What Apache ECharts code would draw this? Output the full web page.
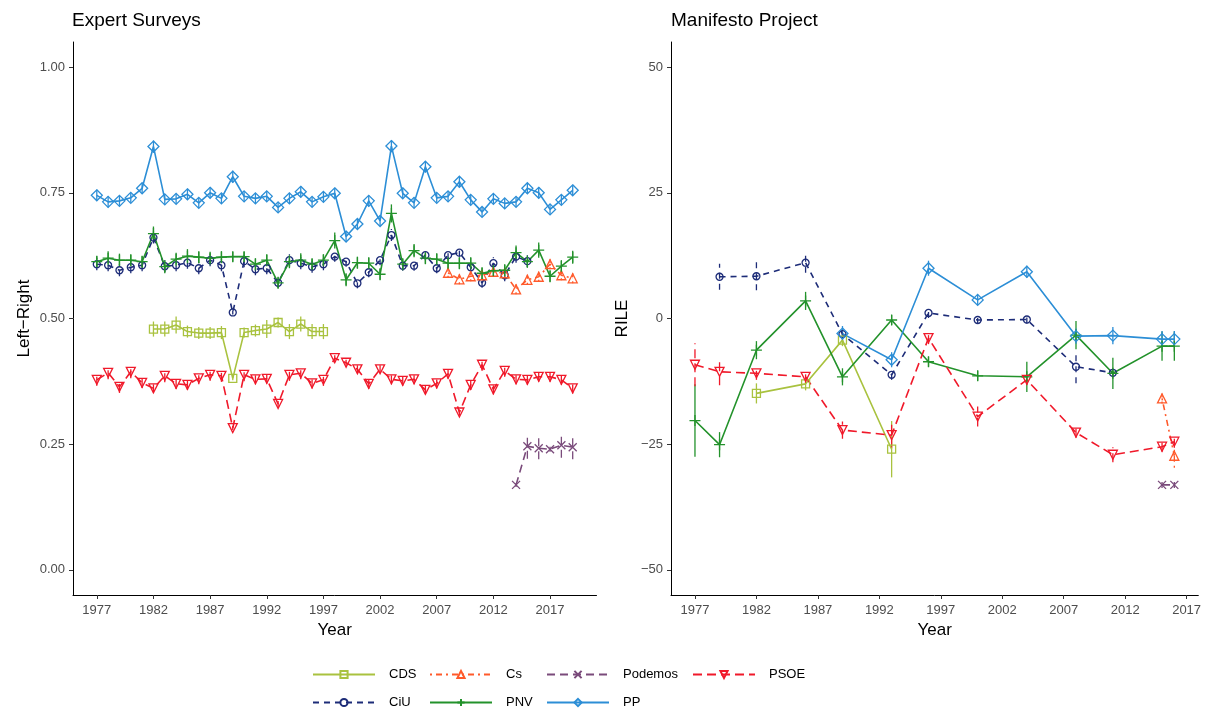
<!DOCTYPE html>
<html><head><meta charset="utf-8">
<script src="https://cdn.jsdelivr.net/npm/echarts@6/dist/echarts.min.js"></script>
<style>html,body{margin:0;padding:0;background:#fff}#c{width:1207px;height:710px}</style>
</head><body><div id="c"></div>
<script>
// ---------- Expert Surveys (left panel) ----------
const esYearsAll = [1977,1978,1979,1980,1981,1982,1983,1984,1985,1986,1987,1988,1989,1990,1991,1992,1993,1994,1995,1996,1997,1998,1999,2000,2001,2002,2003,2004,2005,2006,2007,2008,2009,2010,2011,2012,2013,2014,2015,2016,2017,2018,2019];
const esYearsCiU = [1977,1978,1979,1980,1981,1982,1983,1984,1985,1986,1987,1988,1989,1990,1991,1992,1993,1994,1995,1996,1997,1998,1999,2000,2001,2002,2003,2004,2005,2006,2007,2008,2009,2010,2011,2012,2013,2014,2015];
const esYearsCDS = [1982,1983,1984,1985,1986,1987,1988,1989,1990,1991,1992,1993,1994,1995,1996,1997];
const esYearsCs = [2008,2009,2010,2011,2012,2013,2014,2015,2016,2017,2018,2019];
const esYearsPod = [2014,2015,2016,2017,2018,2019];

const ppES = [0.745,0.732,0.734,0.740,0.759,0.842,0.737,0.738,0.747,0.730,0.750,0.739,0.782,0.743,0.739,0.743,0.721,0.739,0.752,0.732,0.742,0.749,
  0.663,0.688,0.734,0.694,0.843,0.749,0.730,0.802,0.740,0.743,0.772,0.736,0.712,0.738,0.729,0.732,0.759,0.750,0.717,0.736,0.755];
const pnvES = [0.613,0.620,0.616,0.616,0.613,0.669,0.603,0.618,0.624,0.622,0.620,0.622,0.623,0.623,0.608,0.616,0.571,0.613,0.616,0.608,0.616,0.655,
  0.577,0.611,0.610,0.588,0.709,0.608,0.635,0.620,0.618,0.610,0.610,0.610,0.590,0.595,0.596,0.631,0.613,0.636,0.584,0.604,0.622];
const ciuES = [0.608,0.606,0.596,0.602,0.606,0.661,0.604,0.606,0.611,0.600,0.616,0.606,0.512,0.614,0.598,0.600,0.571,0.616,0.610,0.603,0.608,0.623,
  0.613,0.570,0.592,0.616,0.666,0.605,0.605,0.626,0.600,0.626,0.631,0.602,0.571,0.610,0.586,0.623,0.614];
const csES = [0.591,0.578,0.584,0.586,0.593,0.590,0.558,0.577,0.583,0.608,0.586,0.580];
const cdsES = [0.479,0.479,0.487,0.474,0.471,0.471,0.472,0.381,0.472,0.476,0.479,0.492,0.474,0.489,0.474,0.474];
const psoeES = [0.378,0.392,0.364,0.394,0.372,0.361,0.386,0.370,0.368,0.381,0.388,0.386,0.282,0.388,0.379,0.380,0.330,0.388,0.391,0.371,0.378,0.421,
  0.412,0.399,0.370,0.399,0.379,0.376,0.379,0.358,0.371,0.390,0.313,0.368,0.408,0.359,0.396,0.379,0.378,0.384,0.384,0.378,0.361];
const podES = [0.169,0.246,0.242,0.240,0.248,0.244];

// error half-widths (expert surveys)
const ppESerr = [0.011,0.011,0.010,0.010,0.010,0.012,0.010,0.010,0.011,0.010,0.011,0.010,0.012,0.010,0.010,0.010,0.010,0.011,0.011,0.010,0.010,0.010,
  0.010,0.010,0.011,0.010,0.012,0.010,0.010,0.011,0.010,0.010,0.011,0.010,0.010,0.010,0.010,0.010,0.011,0.011,0.010,0.010,0.010];
const pnvESerr = [0.012,0.014,0.013,0.012,0.012,0.014,0.013,0.013,0.014,0.012,0.013,0.012,0.010,0.010,0.012,0.012,0.012,0.013,0.014,0.012,0.012,0.016,
  0.013,0.012,0.012,0.012,0.018,0.012,0.013,0.012,0.012,0.012,0.012,0.012,0.012,0.012,0.012,0.014,0.012,0.015,0.012,0.012,0.013];
const ciuESerr = [0.012,0.012,0.012,0.012,0.012,0.012,0.012,0.012,0.012,0.012,0.012,0.012,0.004,0.012,0.012,0.012,0.010,0.012,0.012,0.012,0.012,0.010,
  0.010,0.010,0.010,0.010,0.012,0.010,0.010,0.010,0.010,0.008,0.008,0.010,0.010,0.012,0.012,0.012,0.012];
const csESerr = [0.010,0.010,0.010,0.010,0.010,0.010,0.010,0.010,0.010,0.010,0.010,0.010];
const cdsESerr = [0.015,0.015,0.017,0.012,0.012,0.012,0.013,0.004,0.010,0.012,0.018,0.010,0.015,0.015,0.015,0.015];
const psoeESerr = [0.012,0.013,0.012,0.013,0.010,0.008,0.013,0.010,0.010,0.012,0.012,0.012,0.004,0.013,0.010,0.010,0.006,0.012,0.012,0.010,0.012,0.006,
  0.006,0.008,0.010,0.008,0.010,0.010,0.010,0.008,0.010,0.010,0.006,0.010,0.012,0.010,0.012,0.010,0.010,0.010,0.010,0.010,0.010];
const podESerr = [0.004,0.025,0.022,0.005,0.025,0.024];

// ---------- Manifesto Project (right panel) ----------
const mpYearsCiU = [1979,1982,1986,1989,1993,1996,2000,2004,2008,2011];
const ciuMP = [8.3,8.4,11.1,-3.1,-11.2,1.1,-0.3,-0.2,-9.6,-10.8];
const ciuMPerr = [2.6,2.8,2.0,1.0,1.0,1.0,0.8,0.8,3.3,0.8];
const mpYearsPP = [1989,1993,1996,2000,2004,2008,2011,2015,2016];
const ppMP = [-3.0,-8.2,10.0,3.7,9.3,-3.5,-3.4,-4.1,-4.1];
const ppMPerr = [1.5,1.5,1.5,1.0,1.2,1.5,1.7,1.6,1.6];
const mpYearsPNV = [1977,1979,1982,1986,1989,1993,1996,2000,2004,2008,2011,2015,2016];
const pnvMP = [-20.3,-25.1,-6.3,3.5,-11.6,-0.3,-8.6,-11.4,-11.6,-3.3,-10.9,-5.5,-5.5];
const pnvMPerr = [7.2,2.5,1.8,1.8,1.7,1.0,1.0,1.0,3.0,2.8,3.1,2.9,2.9];
const mpYearsCDS = [1982,1986,1989,1993];
const cdsMP = [-14.9,-13.0,-4.3,-26.0];
const cdsMPerr = [2.0,1.3,1.2,5.6];
const mpYearsPSOE = [1977,1979,1982,1986,1989,1993,1996,2000,2004,2008,2011,2015,2016];
const psoeMP = [-9.2,-10.6,-10.9,-11.6,-22.2,-23.2,-3.9,-19.5,-12.2,-22.7,-27.1,-25.5,-24.5];
const psoeMPerr = [4.3,2.7,1.3,1.3,1.7,2.5,1.2,2.0,1.0,1.0,1.5,1.0,1.2];
const mpYearsCs = [2015,2016];
const csMP = [-15.9,-27.3];
const csMPerr = [1.0,2.4];
const mpYearsPod = [2015,2016];
const podMP = [-33.1,-33.1];
const podMPerr = [0.6,0.6];

// ---------- ticks ----------
const xTicks = [1977,1982,1987,1992,1997,2002,2007,2012,2017];
const yTicksES = [0,0.25,0.5,0.75,1];
const yTicksMP = [-50,-25,0,25,50];

const FONT = "'Liberation Sans', Arial, Helvetica, sans-serif";

const parties = {
  CDS:     {color:'#A9C23F', symbol:'rect', size:8, rotate:0, dash:'solid'},
  CiU:     {color:'#1D2C78', symbol:'circle', size:7, rotate:0, dash:[6,5]},
  Cs:      {color:'#FF5A2B', symbol:'triangle', size:9, rotate:0, dash:[2,4,6,4]},
  PNV:     {color:'#23922B', symbol:'path://M5,0L5,10M0,5L10,5', size:11, rotate:0, dash:'solid'},
  Podemos: {color:'#7A4B7B', symbol:'path://M0,0L10,10M0,10L10,0', size:8, rotate:0, dash:[8,5]},
  PP:      {color:'#2C8ED6', symbol:'diamond', size:11, rotate:0, dash:'solid'},
  PSOE:    {color:'#F0192A', symbol:'triangle', size:9, rotate:180, dash:[9,5]}
};

function lineSeries(name, gi, years, vals) {
  const p = parties[name];
  return {
    type:'line', name: name, xAxisIndex: gi, yAxisIndex: gi,
    data: years.map((y,i)=>[y, vals[i]]),
    symbol: p.symbol, symbolSize: p.size, symbolRotate: p.rotate,
    showSymbol: true,
    lineStyle: {color: p.color, width: 1.6, type: p.dash},
    itemStyle: {color: 'rgba(255,255,255,0)', borderColor: p.color, borderWidth: 1.3},
    emphasis: {disabled: true}, silent: true, z: 3
  };
}
function errSeries(name, gi, years, vals, errs) {
  const p = parties[name];
  return {
    type:'custom', name: name + ' err', xAxisIndex: gi, yAxisIndex: gi,
    data: years.map((y,i)=>[y, vals[i]-errs[i], vals[i]+errs[i]]),
    encode: {x:0, y:[1,2]},
    renderItem: function(params, api) {
      const a = api.coord([api.value(0), api.value(1)]);
      const b = api.coord([api.value(0), api.value(2)]);
      return {type:'line', shape:{x1:a[0], y1:a[1], x2:b[0], y2:b[1]},
        style:{stroke: p.color, lineWidth: 1.3, lineDash: p.dash === 'solid' ? null : p.dash}};
    },
    silent: true, z: 2
  };
}

const series = [
  lineSeries('CDS', 0, esYearsCDS, cdsES),
  lineSeries('CiU', 0, esYearsCiU, ciuES),
  lineSeries('Cs', 0, esYearsCs, csES),
  lineSeries('PNV', 0, esYearsAll, pnvES),
  lineSeries('Podemos', 0, esYearsPod, podES),
  lineSeries('PP', 0, esYearsAll, ppES),
  lineSeries('PSOE', 0, esYearsAll, psoeES),
  errSeries('CDS', 0, esYearsCDS, cdsES, cdsESerr),
  errSeries('CiU', 0, esYearsCiU, ciuES, ciuESerr),
  errSeries('Cs', 0, esYearsCs, csES, csESerr),
  errSeries('PNV', 0, esYearsAll, pnvES, pnvESerr),
  errSeries('Podemos', 0, esYearsPod, podES, podESerr),
  errSeries('PP', 0, esYearsAll, ppES, ppESerr),
  errSeries('PSOE', 0, esYearsAll, psoeES, psoeESerr),
  lineSeries('CDS', 1, mpYearsCDS, cdsMP),
  lineSeries('CiU', 1, mpYearsCiU, ciuMP),
  lineSeries('Cs', 1, mpYearsCs, csMP),
  lineSeries('PNV', 1, mpYearsPNV, pnvMP),
  lineSeries('Podemos', 1, mpYearsPod, podMP),
  lineSeries('PP', 1, mpYearsPP, ppMP),
  lineSeries('PSOE', 1, mpYearsPSOE, psoeMP),
  errSeries('CDS', 1, mpYearsCDS, cdsMP, cdsMPerr),
  errSeries('CiU', 1, mpYearsCiU, ciuMP, ciuMPerr),
  errSeries('Cs', 1, mpYearsCs, csMP, csMPerr),
  errSeries('PNV', 1, mpYearsPNV, pnvMP, pnvMPerr),
  errSeries('Podemos', 1, mpYearsPod, podMP, podMPerr),
  errSeries('PP', 1, mpYearsPP, ppMP, ppMPerr),
  errSeries('PSOE', 1, mpYearsPSOE, psoeMP, psoeMPerr)
];

function xAxisDef(gi, min, max) {
  return {
    type:'value', gridIndex: gi, min: min, max: max,
    name: 'Year', nameLocation: 'middle', nameGap: 26,
    nameTextStyle: {fontSize: 17, color: '#000', fontFamily: FONT},
    axisLine: {show: true, onZero: false, lineStyle: {color: '#000', width: 1}},
    axisTick: {show: true, length: 4, customValues: xTicks, lineStyle: {color: '#333'}},
    axisLabel: {customValues: xTicks, fontSize: 13, color: '#4D4D4D', margin: 9, fontFamily: FONT,
      formatter: v => String(v)},
    splitLine: {show: false}
  };
}
function yAxisDef(gi, min, max, ticks, name, fmt) {
  return {
    type:'value', gridIndex: gi, min: min, max: max,
    name: name, nameLocation: 'middle', nameGap: 40, nameRotate: 90,
    nameTextStyle: {fontSize: 17, color: '#000', fontFamily: FONT},
    axisLine: {show: true, onZero: false, lineStyle: {color: '#000', width: 1}},
    axisTick: {show: true, length: 4, customValues: ticks, lineStyle: {color: '#333'}},
    axisLabel: {customValues: ticks, fontSize: 13, color: '#4D4D4D', margin: 8, fontFamily: FONT, formatter: fmt},
    splitLine: {show: false}
  };
}

const legendPos = [
  ['CDS', 312, 668], ['Cs', 429, 668], ['Podemos', 546, 668], ['PSOE', 692, 668],
  ['CiU', 312, 696], ['PNV', 429, 696], ['PP', 546, 696]
];
const legends = legendPos.map(([n, x, y]) => ({
  data: [n], left: x, top: y, orient: 'horizontal', padding: 0,
  itemWidth: 62, itemHeight: 9, selectedMode: false,
  textStyle: {fontSize: 13, color: '#000', fontFamily: FONT, padding: [0,0,0,9]}
}));

const option = {
  animation: false,
  backgroundColor: '#fff',
  title: [
    {text: 'Expert Surveys', left: 72, top: 11, padding: 0, textStyle: {fontSize: 19, fontWeight: 'normal', color: '#000', fontFamily: FONT}},
    {text: 'Manifesto Project', left: 671, top: 11, padding: 0, textStyle: {fontSize: 19, fontWeight: 'normal', color: '#000', fontFamily: FONT}}
  ],
  legend: legends,
  grid: [
    {left: 73, top: 42, width: 523.5, height: 553},
    {left: 671, top: 42, width: 527.3, height: 553}
  ],
  xAxis: [xAxisDef(0, 1974.9, 2021.1), xAxisDef(1, 1975.05, 2017.95)],
  yAxis: [
    yAxisDef(0, -0.05, 1.05, yTicksES, 'Left\u2212Right', v => v.toFixed(2)),
    yAxisDef(1, -55, 55, yTicksMP, 'RILE', v => String(v).replace('-', '\u2212'))
  ],
  series: series
};

const chart = echarts.init(document.getElementById('c'), null, {renderer: 'canvas'});
chart.setOption(option);
</script>
</body></html>
